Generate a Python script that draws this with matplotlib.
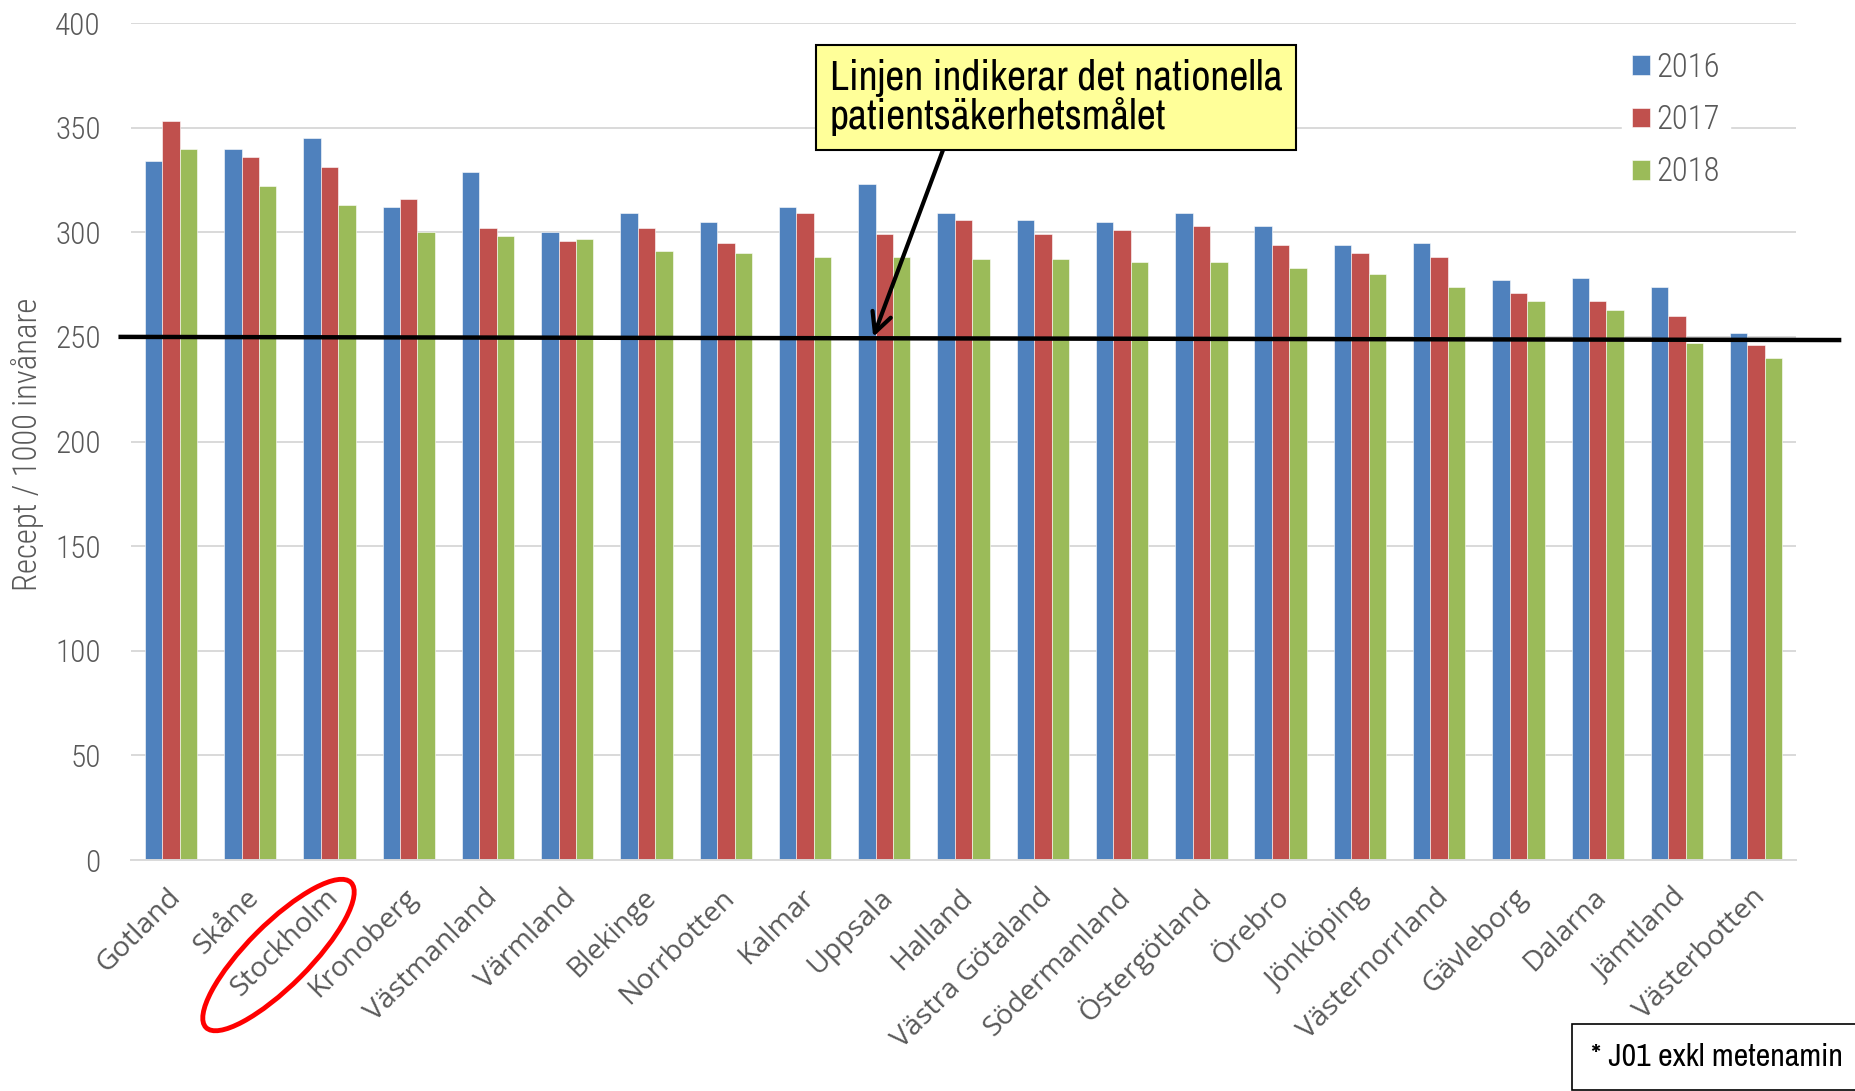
import numpy as np
import matplotlib.pyplot as plt
from matplotlib.patches import Ellipse
from matplotlib.transforms import IdentityTransform, blended_transform_factory, ScaledTranslation

plt.rcParams['font.family'] = ['Roboto Condensed', 'Roboto', 'DejaVu Sans']
plt.rcParams['font.weight'] = 'light'

# Data (recept / 1000 invånare)
lan = ["Gotland", "Skåne", "Stockholm", "Kronoberg", "Västmanland", "Värmland",
       "Blekinge", "Norrbotten", "Kalmar", "Uppsala", "Halland", "Västra Götaland",
       "Södermanland", "Östergötland", "Örebro", "Jönköping", "Västernorrland",
       "Gävleborg", "Dalarna", "Jämtland", "Västerbotten"]
v2016 = [334, 340, 345, 312, 329, 300, 309, 305, 312, 323, 309, 306, 305, 309,
         303, 294, 295, 277, 278, 274, 252]
v2017 = [353, 336, 331, 316, 302, 296, 302, 295, 309, 299, 306, 299, 301, 303,
         294, 290, 288, 271, 267, 260, 246]
v2018 = [340, 322, 313, 300, 298, 297, 291, 290, 288, 288, 287, 287, 286, 286,
         283, 280, 274, 267, 263, 247, 240]
years = ["2016", "2017", "2018"]
colors = ["#4F81BD", "#C0504D", "#9BBB59"]
mal_linje = [250, 248.5]  # handritad linje, lätt lutande

grey = '#595959'
narrow = ['Archivo Narrow', 'DejaVu Sans']
label_font = ['Open Sans', 'DejaVu Sans']

fig = plt.figure(figsize=(18.55, 10.91), dpi=100)
ax = fig.add_axes([0.0708, 0.2117, 0.8973, 0.7672])

x = np.arange(len(lan))
w = 0.22
for i, (vals, c, yr) in enumerate(zip([v2016, v2017, v2018], colors, years)):
    ax.bar(x + (i - 1) * w, vals, w, color=c, label=yr,
           edgecolor='white', linewidth=0.4, zorder=2)

ax.set_xlim(-0.5, len(lan) - 0.5)
ax.set_ylim(0, 400)
ax.set_yticks(np.arange(0, 401, 50))
ax.yaxis.grid(True, color='#D9D9D9', linewidth=1.4, zorder=0)
ax.set_axisbelow(True)
for s in ['top', 'right', 'left']:
    ax.spines[s].set_visible(False)
ax.spines['bottom'].set_color('#D9D9D9')
ax.spines['bottom'].set_linewidth(1.4)
ax.tick_params(length=0)
ax.tick_params(axis='y', labelsize=22.5, labelcolor=grey, pad=22)
ax.set_xticks(x)
ax.set_xticklabels(lan, rotation=45, ha='right', va='center',
                   rotation_mode='anchor', fontsize=20.5, color=grey,
                   family=label_font, fontweight='normal')
ax.tick_params(axis='x', pad=24)
shift = ScaledTranslation(5 / 100, 0, fig.dpi_scale_trans)
for lbl in ax.get_xticklabels():
    lbl.set_transform(lbl.get_transform() + shift)

fig.text(28 / 1855, 1 - 444 / 1091, "Recept / 1000 invånare", rotation=90,
         ha='center', va='center', fontsize=23.5, color=grey)

# nationella målet
tr = blended_transform_factory(ax.transAxes, ax.transData)
ax.plot([-0.0064, 1.026], mal_linje, color='black', lw=3.2, transform=tr,
        clip_on=False, zorder=4)

# legend
leg = ax.legend(loc='upper left', bbox_to_anchor=(1622 / 1855, 1 - 42 / 1091),
                bbox_transform=fig.transFigure, fontsize=23.5, frameon=True,
                facecolor='white', edgecolor='white', framealpha=1,
                handlelength=0.55, handleheight=0.55, labelspacing=0.62,
                handletextpad=0.2, borderpad=0.3, borderaxespad=0)
for t in leg.get_texts():
    t.set_color(grey)

# annotation
fig.text(830 / 1855, 1 - 97.5 / 1091,
         "Linjen indikerar det nationella\npatientsäkerhetsmålet",
         fontsize=30, ha='left', va='center', linespacing=1.0, color='black',
         family=narrow, fontweight='normal',
         bbox=dict(boxstyle='square,pad=0.33', fc='#FFFF99', ec='black', lw=1.5),
         zorder=5)
ax.annotate('', xy=(8.86, 250), xycoords='data',
            xytext=(943 / 1855, 1 - 150 / 1091), textcoords='figure fraction',
            arrowprops=dict(arrowstyle='->', lw=3, color='black',
                            mutation_scale=35, shrinkA=0, shrinkB=0),
            zorder=5)

# red ellipse round Stockholm
px = ax.transData.transform((2, 0))
ell = Ellipse((px[0] - 51, px[1] - 95), 205, 62, angle=45, fill=False,
              edgecolor='#FF0000', lw=3.5, transform=IdentityTransform())
fig.add_artist(ell)

# footnote
fig.text(1591 / 1855, 1 - 1057 / 1091, "* J01 exkl metenamin", fontsize=23,
         ha='left', va='center', color='black', family=narrow, fontweight='normal',
         bbox=dict(boxstyle='square,pad=0.6', fc='white', ec='black', lw=1.2))

fig.savefig('out.png', dpi=100)
